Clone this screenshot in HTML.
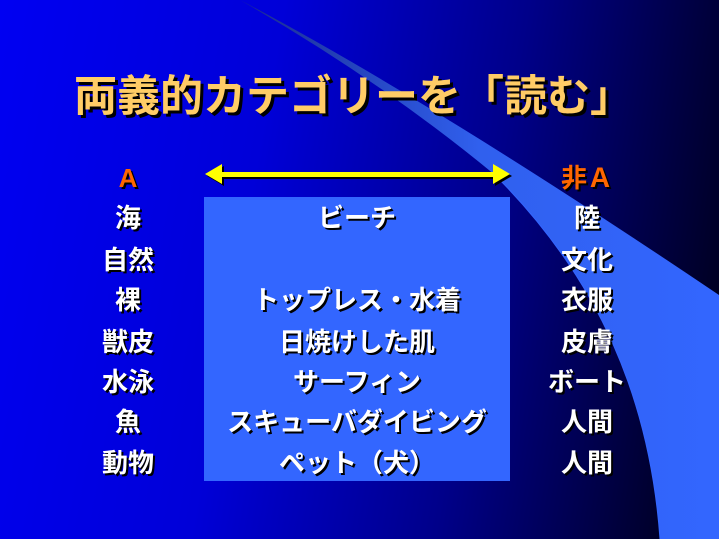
<!DOCTYPE html>
<html><head><meta charset="utf-8"><style>
html,body{margin:0;padding:0}
body{width:719px;height:539px;overflow:hidden;position:relative;background:linear-gradient(100deg,#0000f2 0%,#0000d8 35%,#00008a 65%,#000010 100%);font-family:"Liberation Sans","Noto Sans CJK JP",sans-serif;font-weight:bold}
svg{position:absolute;left:0;top:0}
.t{position:absolute;left:74px;top:72px;font-size:43px;line-height:50px;color:#ffcc66;text-shadow:3px 3px 0 #000;white-space:nowrap}
.c{position:absolute;width:160px;text-align:center;font-size:26px;color:#fff;text-shadow:2px 2px 0 #000;white-space:nowrap;line-height:28px}
.m{width:320px}
.box{position:absolute;left:204px;top:197px;width:306px;height:284px;background:#3366ff}
.o{color:#ff6600}
</style></head><body>
<svg width="719" height="539">
<defs><linearGradient id="g" x1="0" y1="0" x2="1" y2="0">
<stop offset="0" stop-color="#1a2a90"/><stop offset="0.5" stop-color="#3060ee"/><stop offset="1" stop-color="#3366ff"/></linearGradient></defs>
<path d="M240,0 Q430,100 719,295 L719,539 L660,539 C650,400 600,280 495,175 Q380,80 240,0 Z" fill="url(#g)"/>
<path d="M660,539 C650,400 600,280 495,175" fill="none" stroke="#3366ff" stroke-width="1"/>
</svg>
<div class="box"></div>
<svg width="719" height="539">
<g transform="translate(2,2)" fill="#000"><rect x="218" y="172" width="280" height="5"/><polygon points="205,174 222,164 222,184"/><polygon points="510,174 493,164 493,184"/></g>
<g fill="#ffff00"><rect x="218" y="172" width="280" height="5"/><polygon points="205,174 222,164 222,184"/><polygon points="510,174 493,164 493,184"/></g>
</svg>
<div class="t">両義的カテゴリーを「読む」</div>
<div class="c o" style="left:48px;top:164px">A</div>
<div class="c" style="left:48px;top:204px">海</div>
<div class="c" style="left:48px;top:246px">自然</div>
<div class="c" style="left:48px;top:286px">裸</div>
<div class="c" style="left:48px;top:328px">獣皮</div>
<div class="c" style="left:48px;top:368px">水泳</div>
<div class="c" style="left:48px;top:408px">魚</div>
<div class="c" style="left:48px;top:449px">動物</div>
<div class="c m" style="left:197px;top:204px">ビーチ</div>
<div class="c m" style="left:197px;top:286px">トップレス・水着</div>
<div class="c m" style="left:197px;top:328px">日焼けした肌</div>
<div class="c m" style="left:197px;top:368px">サーフィン</div>
<div class="c m" style="left:197px;top:408px">スキューバダイビング</div>
<div class="c m" style="left:197px;top:449px">ペット（犬）</div>
<div class="c o" style="left:507px;top:164px">非Ａ</div>
<div class="c" style="left:507px;top:204px">陸</div>
<div class="c" style="left:507px;top:246px">文化</div>
<div class="c" style="left:507px;top:286px">衣服</div>
<div class="c" style="left:507px;top:328px">皮膚</div>
<div class="c" style="left:507px;top:368px">ボート</div>
<div class="c" style="left:507px;top:408px">人間</div>
<div class="c" style="left:507px;top:449px">人間</div>
</body></html>
